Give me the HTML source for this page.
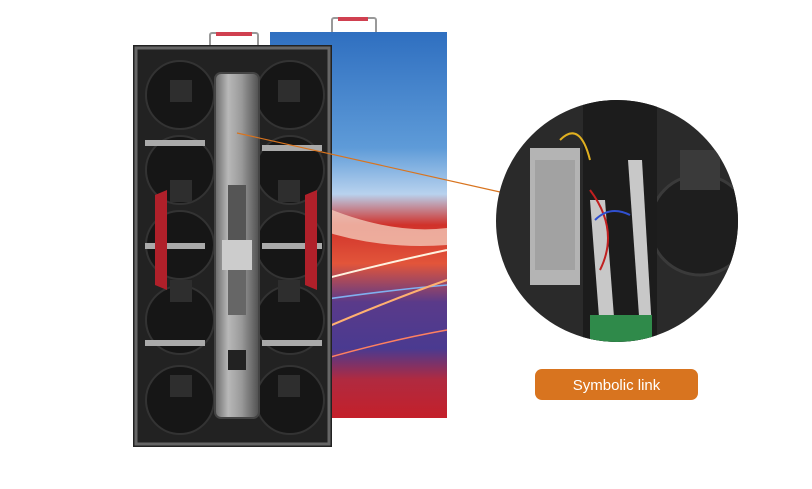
<!DOCTYPE html>
<html><head><meta charset="utf-8"><style>
html,body{margin:0;padding:0;background:#fff;}
svg{display:block}
</style></head><body>
<svg width="812" height="489" viewBox="0 0 812 489" xmlns="http://www.w3.org/2000/svg">
<defs>
<linearGradient id="scr" x1="0" y1="0" x2="0" y2="1">
<stop offset="0" stop-color="#2f6fc0"/><stop offset="0.3" stop-color="#5e9bd8"/>
<stop offset="0.42" stop-color="#b8d2ee"/><stop offset="0.5" stop-color="#d0312a"/>
<stop offset="0.6" stop-color="#e2553a"/><stop offset="0.7" stop-color="#5a3a8a"/>
<stop offset="0.82" stop-color="#4a3a90"/><stop offset="0.9" stop-color="#b02a40"/><stop offset="1" stop-color="#c4202a"/>
</linearGradient>
<linearGradient id="spine" x1="0" y1="0" x2="1" y2="0">
<stop offset="0" stop-color="#6a6a6a"/><stop offset="0.3" stop-color="#b8b8b8"/>
<stop offset="0.6" stop-color="#9a9a9a"/><stop offset="1" stop-color="#505050"/>
</linearGradient>
<clipPath id="cc"><circle cx="617" cy="221" r="121"/></clipPath>
</defs>
<rect x="332" y="18" width="44" height="16" rx="2" fill="none" stroke="#999" stroke-width="2"/>
<rect x="338" y="17" width="30" height="4" fill="#d04050"/>
<rect x="270" y="32" width="177" height="386" fill="url(#scr)"/>
<path d="M320 205 Q390 235 447 228 L447 245 Q380 250 320 230Z" fill="#f3c8b8" opacity="0.8"/>
<path d="M320 280 Q390 262 447 250" stroke="#fff3e0" stroke-width="2" fill="none"/>
<path d="M320 300 Q390 290 447 285" stroke="#80b0f0" stroke-width="1.5" fill="none"/>
<path d="M320 330 Q390 300 447 280" stroke="#ffb070" stroke-width="2" fill="none"/>
<path d="M320 360 Q390 340 447 330" stroke="#ff8060" stroke-width="1.5" fill="none"/>
<rect x="210" y="33" width="48" height="14" rx="2" fill="none" stroke="#999" stroke-width="2"/>
<rect x="216" y="32" width="36" height="4" fill="#d04050"/>
<rect x="133" y="45" width="199" height="402" fill="#222"/>
<rect x="136" y="48" width="193" height="396" fill="none" stroke="#666" stroke-width="3"/>
<g fill="#161616" stroke="#333" stroke-width="2">
<circle cx="180" cy="95" r="34"/><circle cx="180" cy="170" r="34"/><circle cx="180" cy="245" r="34"/><circle cx="180" cy="320" r="34"/><circle cx="180" cy="400" r="34"/>
<circle cx="290" cy="95" r="34"/><circle cx="290" cy="170" r="34"/><circle cx="290" cy="245" r="34"/><circle cx="290" cy="320" r="34"/><circle cx="290" cy="400" r="34"/>
</g>
<g fill="#2e2e2e"><rect x="170" y="80" width="22" height="22"/><rect x="278" y="80" width="22" height="22"/><rect x="170" y="180" width="22" height="22"/><rect x="278" y="180" width="22" height="22"/><rect x="170" y="280" width="22" height="22"/><rect x="278" y="280" width="22" height="22"/><rect x="170" y="375" width="22" height="22"/><rect x="278" y="375" width="22" height="22"/></g>
<g fill="#aaa"><rect x="145" y="140" width="60" height="6"/><rect x="262" y="145" width="60" height="6"/><rect x="145" y="243" width="60" height="6"/><rect x="262" y="243" width="60" height="6"/><rect x="145" y="340" width="60" height="6"/><rect x="262" y="340" width="60" height="6"/></g>
<path d="M155 195 L167 190 L167 290 L155 285Z" fill="#b0202a"/>
<path d="M305 195 L317 190 L317 290 L305 285Z" fill="#b0202a"/>
<rect x="215" y="73" width="44" height="345" rx="6" fill="url(#spine)" stroke="#444" stroke-width="2"/>
<rect x="228" y="185" width="18" height="55" fill="#555"/>
<rect x="222" y="240" width="30" height="30" fill="#ccc"/>
<rect x="228" y="270" width="18" height="45" fill="#666"/>
<rect x="228" y="350" width="18" height="20" fill="#222"/>
<line x1="237" y1="133" x2="500" y2="192" stroke="#d8741f" stroke-width="1.2"/>
<g clip-path="url(#cc)">
<rect x="490" y="95" width="260" height="255" fill="#2a2a2a"/>
<circle cx="700" cy="225" r="50" fill="#1e1e1e" stroke="#3a3a3a" stroke-width="3"/>
<rect x="680" y="150" width="40" height="40" fill="#3a3a3a"/>
<rect x="583" y="100" width="74" height="245" fill="#1c1c1c"/>
<rect x="530" y="148" width="50" height="137" fill="#b4b4b4"/>
<rect x="535" y="160" width="40" height="110" fill="#8f8f8f" opacity="0.5"/>
<path d="M590 200 L600 330 L615 330 L605 200Z" fill="#c8c8c8"/>
<path d="M628 160 L640 330 L652 330 L642 160Z" fill="#c8c8c8"/>
<path d="M590 190 Q620 230 600 270" stroke="#c02020" stroke-width="2" fill="none"/>
<path d="M560 140 Q580 120 590 160" stroke="#e0b020" stroke-width="2" fill="none"/>
<path d="M595 220 Q610 205 630 215" stroke="#3050d0" stroke-width="2" fill="none"/>
<rect x="590" y="315" width="62" height="30" fill="#2f8a4a"/>
</g>
<rect x="535" y="369" width="163" height="31" rx="7" fill="#d8741f"/>
<text x="616.5" y="390" text-anchor="middle" font-family="Liberation Sans, sans-serif" font-size="15" fill="#fff">Symbolic link</text>
</svg>
</body></html>
